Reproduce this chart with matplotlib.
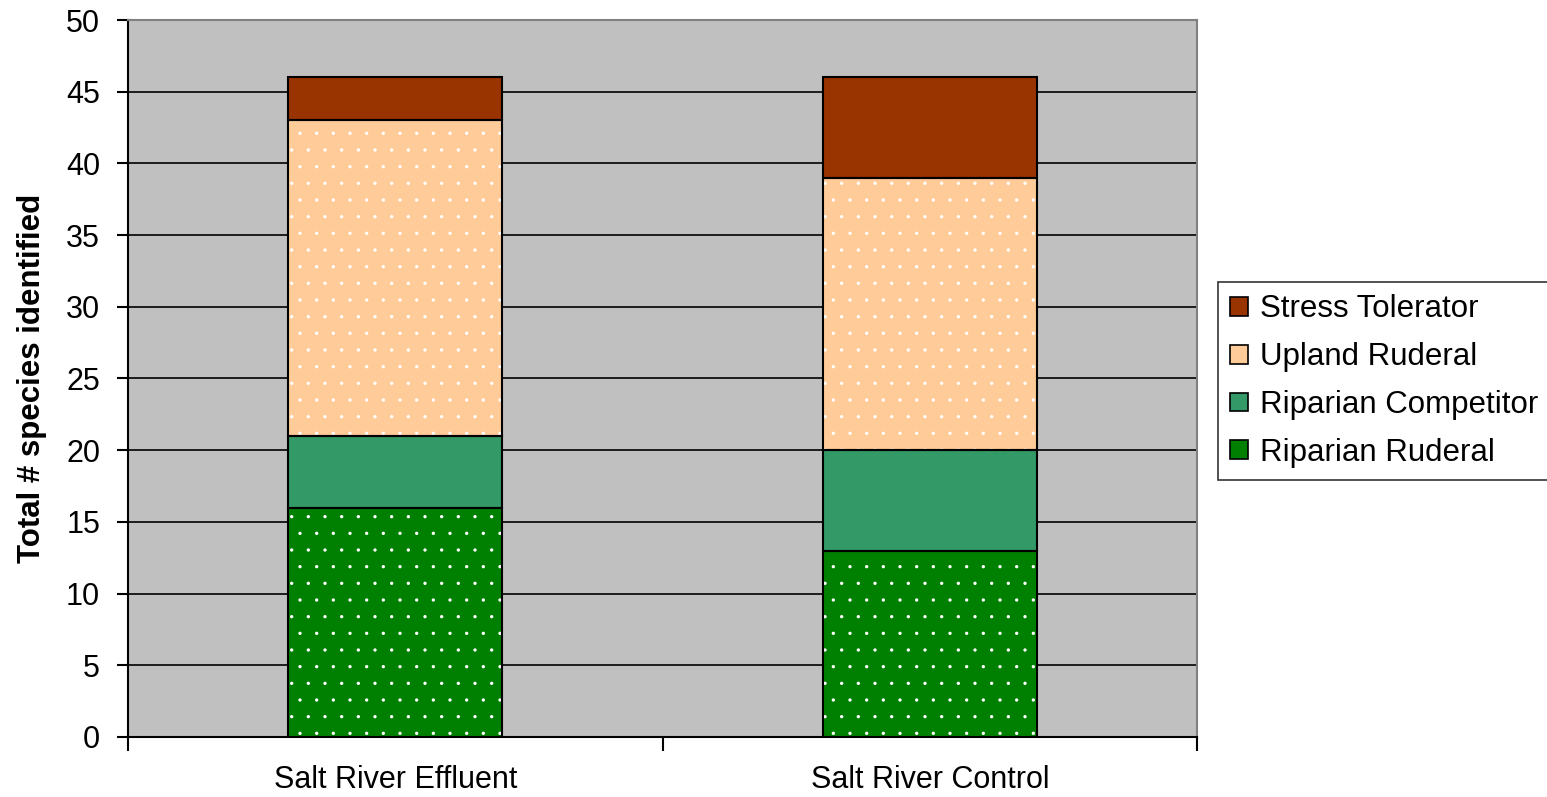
import matplotlib.pyplot as plt
from matplotlib.patches import Patch
from matplotlib.ticker import FixedLocator
import numpy as np

plt.rcParams['font.family'] = ['Liberation Sans', 'DejaVu Sans']
plt.rcParams['hatch.linewidth'] = 0.0

# species counts per site, stacked bottom to top
sites = ['Salt River Effluent', 'Salt River Control']
groups = ['Riparian Ruderal', 'Riparian Competitor', 'Upland Ruderal', 'Stress Tolerator']
riparian_ruderal = [16, 13]
riparian_competitor = [5, 7]
upland_ruderal = [22, 19]
stress_tolerator = [3, 7]

colors = ['#008000', '#339966', '#FFCC99', '#993300']
hatches = ['.', None, '.', None]


def main():
    fig = plt.figure(figsize=(15.47, 7.97), dpi=100)
    ax = fig.add_axes([0.0827, 0.0753, 0.6911, 0.8996])
    ax.set_facecolor('#C0C0C0')

    x = np.arange(len(sites))
    bottom = np.zeros(len(sites))
    series = [riparian_ruderal, riparian_competitor, upland_ruderal, stress_tolerator]
    for values, color, hatch in zip(series, colors, hatches):
        # fill with white dot pattern, then outline in black
        ax.bar(x, values, 0.4, bottom=bottom, color=color, edgecolor='white',
               linewidth=0, hatch=hatch, zorder=3)
        ax.bar(x, values, 0.4, bottom=bottom, fill=False, edgecolor='black',
               linewidth=1.5, zorder=4)
        bottom += np.array(values)

    ax.set_xlim(-0.5, 1.5)
    ax.set_ylim(0, 50)
    ax.set_yticks(np.arange(0, 51, 5))
    ax.yaxis.grid(True, color='black', linewidth=1.2)
    ax.set_axisbelow(True)

    ax.set_xticks(x)
    ax.set_xticklabels(sites)
    ax.xaxis.set_minor_locator(FixedLocator([-0.5, 0.5, 1.5]))
    ax.tick_params(axis='x', which='major', length=0, pad=20, labelsize=22)
    ax.tick_params(axis='x', which='minor', length=10, width=1.5, direction='out')
    ax.tick_params(axis='y', length=8, width=1.5, direction='out', pad=12, labelsize=22)

    ax.set_ylabel('Total # species identified', fontsize=22.5, fontweight='bold', labelpad=14)

    for side in ['left', 'bottom']:
        ax.spines[side].set_color('black')
        ax.spines[side].set_linewidth(1.5)
    for side in ['top', 'right']:
        ax.spines[side].set_color('#808080')
        ax.spines[side].set_linewidth(1.5)

    handles = [Patch(facecolor=c, edgecolor='black', linewidth=1.2) for c in colors]
    leg = fig.legend(handles[::-1], groups[::-1], loc='upper left',
                     bbox_to_anchor=(0.7873, 0.6462), fontsize=22.5, frameon=True,
                     fancybox=False, handlelength=0.55, handleheight=0.55,
                     handletextpad=0.38, labelspacing=0.57, borderpad=0.4,
                     borderaxespad=0)
    leg.get_frame().set_edgecolor('black')
    leg.get_frame().set_linewidth(1.2)

    fig.savefig('out.png', dpi=100)


if __name__ == '__main__':
    main()
